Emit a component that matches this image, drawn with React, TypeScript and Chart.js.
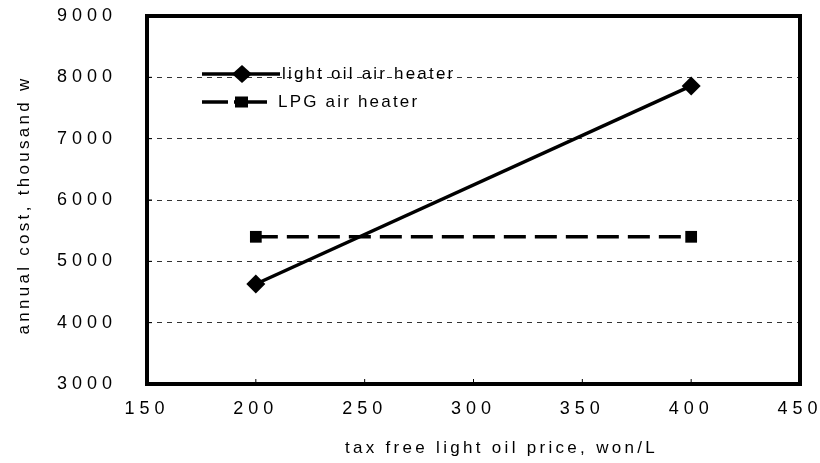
import React, { useEffect, useRef } from 'react';
import { Chart, registerables } from 'chart.js';

Chart.register(...registerables);

// ---- data ----
const oilPrices = [200, 400];
const lightOilCost = [4630, 7860];
const lpgCost = [5400, 5400];
const seriesLabels = ['light oil air heater', 'LPG air heater'];
const xAxisTitle = 'tax free light oil price, won/L';
const yAxisTitle = 'annual cost, thousand w';
const xRange = [150, 450];
const yRange = [3000, 9000];
const xStep = 50;
const yStep = 1000;

const FONT = '"Liberation Sans", Arial, Helvetica, sans-serif';

const framePlugin = {
  id: 'frame',
  beforeDraw(chart: any) {
    chart.ctx.letterSpacing = '5px';
  },
  afterDraw(chart: any) {
    const { ctx, chartArea: a, scales } = chart;
    ctx.save();
    ctx.letterSpacing = '0px';
    ctx.strokeStyle = '#000';
    ctx.fillStyle = '#000';
    ctx.setLineDash([]);
    // inward tick marks
    ctx.lineWidth = 1;
    scales.x.ticks.forEach((t: any) => {
      const px = scales.x.getPixelForValue(t.value);
      ctx.beginPath();
      ctx.moveTo(px, a.bottom);
      ctx.lineTo(px, a.bottom - 5);
      ctx.stroke();
    });
    scales.y.ticks.forEach((t: any) => {
      const py = scales.y.getPixelForValue(t.value);
      ctx.beginPath();
      ctx.moveTo(a.left, py);
      ctx.lineTo(a.left + 5, py);
      ctx.stroke();
    });
    // frame
    ctx.lineWidth = 4;
    ctx.strokeRect(a.left, a.top, a.right - a.left, a.bottom - a.top);

    // legend
    const lx = a.left + 55;
    const ly1 = a.top + 58;
    const ly2 = a.top + 86;
    ctx.lineWidth = 3.5;
    ctx.beginPath();
    ctx.moveTo(lx, ly1);
    ctx.lineTo(lx + 78, ly1);
    ctx.stroke();
    const dcx = lx + 40;
    ctx.beginPath();
    ctx.moveTo(dcx - 10, ly1);
    ctx.lineTo(dcx, ly1 - 9);
    ctx.lineTo(dcx + 10, ly1);
    ctx.lineTo(dcx, ly1 + 9);
    ctx.closePath();
    ctx.fill();

    ctx.beginPath();
    ctx.moveTo(lx, ly2);
    ctx.lineTo(lx + 26, ly2);
    ctx.moveTo(lx + 32, ly2);
    ctx.lineTo(lx + 65, ly2);
    ctx.stroke();
    ctx.fillRect(lx + 33, ly2 - 5.5, 13, 11);

    ctx.font = `17px ${FONT}`;
    ctx.letterSpacing = '2.2px';
    ctx.textAlign = 'left';
    ctx.textBaseline = 'middle';
    ctx.fillText(seriesLabels[0], lx + 80, ly1);
    ctx.fillText(seriesLabels[1], lx + 76, ly2);

    // axis titles
    ctx.letterSpacing = '3.3px';
    ctx.textBaseline = 'alphabetic';
    ctx.fillText(xAxisTitle, 345, 453);
    ctx.save();
    ctx.translate(29, (a.top + a.bottom) / 2 + 5);
    ctx.rotate(-Math.PI / 2);
    ctx.textAlign = 'center';
    ctx.fillText(yAxisTitle, 0, 0);
    ctx.restore();

    ctx.restore();
    ctx.letterSpacing = '0px';
  },
};

export default function App() {
  const ref = useRef<HTMLCanvasElement | null>(null);

  useEffect(() => {
    document.body.style.margin = '0';
    const canvas = ref.current;
    if (!canvas) return;
    const chart = new Chart(canvas, {
      type: 'line',
      data: {
        datasets: [
          {
            label: seriesLabels[0],
            data: oilPrices.map((x, i) => ({ x, y: lightOilCost[i] })),
            borderColor: '#000',
            backgroundColor: '#000',
            borderWidth: 3.5,
            pointStyle: 'rectRot',
            pointRadius: 9.5,
            pointBorderWidth: 0,
            fill: false,
            tension: 0,
          },
          {
            label: seriesLabels[1],
            data: oilPrices.map((x, i) => ({ x, y: lpgCost[i] })),
            borderColor: '#000',
            backgroundColor: '#000',
            borderWidth: 3.5,
            borderDash: [22, 9],
            pointStyle: 'rect',
            pointRadius: 8.3,
            pointBorderWidth: 0,
            fill: false,
            tension: 0,
          },
        ],
      },
      options: {
        animation: false,
        responsive: false,
        maintainAspectRatio: false,
        layout: { padding: { top: 16, right: 20, left: 0, bottom: 0 } },
        plugins: {
          legend: { display: false },
          tooltip: { enabled: false },
        },
        scales: {
          x: {
            type: 'linear',
            min: xRange[0],
            max: xRange[1],
            ticks: {
              stepSize: xStep,
              color: '#000',
              font: { family: FONT, size: 18 },
              padding: 14,
              maxRotation: 0,
              autoSkip: false,
              callback: (v: any) => String(v),
            },
            grid: { display: false, drawTicks: false },
            border: { display: false },
            title: { display: false },
            afterFit: (s: any) => {
              s.height = 79;
              s.paddingLeft = 0;
              s.paddingRight = 0;
            },
          },
          y: {
            type: 'linear',
            min: yRange[0],
            max: yRange[1],
            ticks: {
              stepSize: yStep,
              color: '#000',
              font: { family: FONT, size: 18 },
              padding: 30,
              callback: (v: any) => String(v),
            },
            grid: {
              drawTicks: false,
              lineWidth: 1,
              color: (c: any) =>
                c.tick && (c.tick.value === yRange[0] || c.tick.value === yRange[1])
                  ? 'rgba(0,0,0,0)'
                  : '#333',
            },
            border: { display: false, dash: [5, 5] },
            title: { display: false },
            afterFit: (s: any) => {
              s.width = 147;
              s.paddingTop = 0;
              s.paddingBottom = 0;
            },
          },
        },
      },
      plugins: [framePlugin],
    });
    return () => chart.destroy();
  }, []);

  return (
    <div style={{ position: 'absolute', left: 0, top: 0, width: 820, height: 463 }}>
      <canvas ref={ref} width={820} height={463} style={{ width: 820, height: 463 }} />
    </div>
  );
}
